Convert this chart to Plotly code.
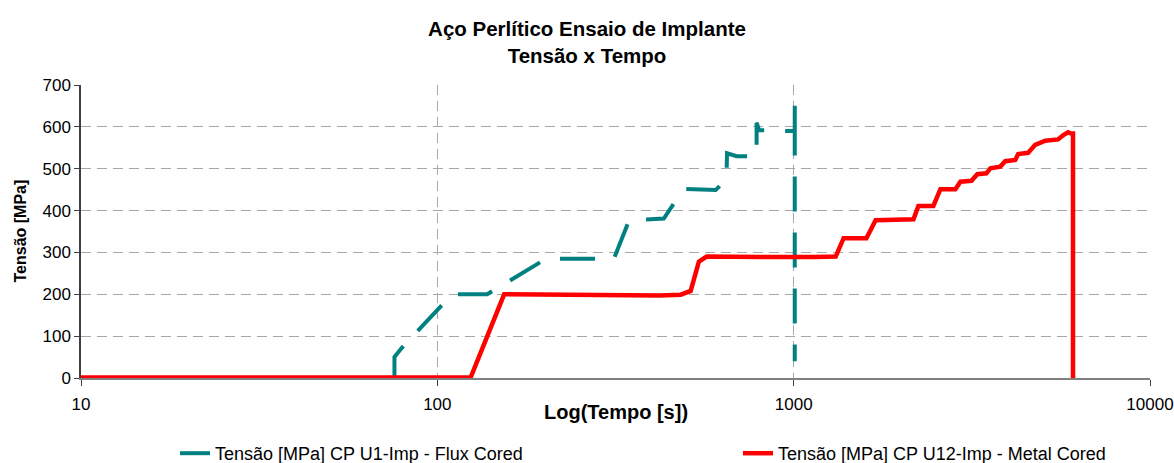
import plotly.graph_objects as go

# Série 1: Flux Cored (CP U1-Imp)
tempo_flux = [75.8, 75.8, 79.5, 110, 138, 202, 313, 345, 432, 492, 604, 640, 648, 650,
              692, 787, 787, 800, 986, 1007, 1007, 1007]
tensao_flux = [0, 50, 72, 200, 200, 285, 285, 376, 381, 452, 449, 470, 478, 537,
               530, 530, 610, 592, 590, 590, 658, 40]

# Série 2: Metal Cored (CP U12-Imp)
tempo_metal = [10, 124, 154, 250, 350, 420, 482, 514, 542, 570, 800, 1000, 1150, 1312,
               1381, 1600, 1698, 2169, 2239, 2466, 2581, 2843, 2938, 3155, 3276, 3474,
               3565, 3800, 3925, 4188, 4267, 4550, 4761, 5082, 5521, 5700, 5890, 6010,
               6080, 6080]
tensao_metal = [1, 1, 200, 198, 199, 197, 199, 208, 278, 290, 289, 288, 289, 290,
                334, 334, 377, 379, 411, 411, 451, 451, 469, 471, 487, 489,
                501, 505, 518, 521, 535, 538, 557, 567, 570, 580, 587, 584,
                584, 0]

y_ticks = [0, 100, 200, 300, 400, 500, 600, 700]
x_ticks = [10, 100, 1000, 10000]

fonte = "Liberation Sans, Arial, sans-serif"
W, H = 1174, 463
ML, MR, MT, MB = 81, 24, 85, 85
PW, PH = W - ML - MR, H - MT - MB


def px_x(p):
    # pixel column -> paper x
    return (p - ML) / PW


def px_y(p):
    # pixel row -> paper y
    return (H - MB - p) / PH


fig = go.Figure()
fig.add_trace(go.Scatter(
    x=tempo_flux, y=tensao_flux, mode="lines",
    name="Tensão [MPa] CP U1-Imp - Flux Cored",
    line=dict(color="#008080", width=4, dash="35px,21px"),
    legend="legend",
))
fig.add_trace(go.Scatter(
    x=tempo_metal, y=tensao_metal, mode="lines",
    name="Tensão [MPa] CP U12-Imp - Metal Cored",
    line=dict(color="#ff0000", width=4.5),
    legend="legend2",
))

legenda = dict(
    orientation="h", xref="container", yref="container",
    xanchor="left", y=(H - 435) / H, yanchor="top",
    font=dict(size=18, family=fonte), bgcolor="rgba(0,0,0,0)",
)

fig.update_layout(
    width=W, height=H,
    margin=dict(l=ML, r=MR, t=MT, b=MB, autoexpand=False),
    paper_bgcolor="white", plot_bgcolor="white",
    font=dict(family=fonte, size=17, color="black"),
    title=dict(
        text="<b>Aço Perlítico Ensaio de Implante<br>Tensão x Tempo</b>",
        x=0.5, xanchor="center", xref="container",
        y=1 - 36 / H, yanchor="top", yref="container",
        font=dict(size=20.5, family=fonte),
    ),
    showlegend=True,
    legend=dict(legenda, x=175 / W),
    legend2=dict(legenda, x=738 / W),
    annotations=[
        dict(text="<b>Log(Tempo [s])</b>", xref="paper", yref="paper",
             x=0.5, y=px_y(412), xanchor="center", yanchor="middle",
             showarrow=False, font=dict(size=20, family=fonte)),
        dict(text="<b>Tensão [MPa]</b>", xref="paper", yref="paper",
             x=px_x(20), y=0.5, xanchor="center", yanchor="middle", textangle=-90,
             showarrow=False, font=dict(size=16, family=fonte)),
    ],
)

fig.update_xaxes(
    type="log", range=[1, 4],
    tickvals=x_ticks, ticktext=[str(v) for v in x_ticks],
    showline=True, linecolor="#808080", linewidth=1.5,
    ticks="outside", ticklen=6, tickcolor="#404040",
    ticklabelstandoff=4, ticklabeloverflow="allow",
    showgrid=True, gridcolor="#a8a8a8", griddash="10px,6px", gridwidth=1,
    zeroline=False,
)
fig.update_yaxes(
    range=[0, 700], tickvals=y_ticks,
    showline=True, linecolor="#404040", linewidth=1.5,
    ticks="outside", ticklen=5, tickcolor="#404040",
    showgrid=True, gridcolor="#a8a8a8", griddash="10px,6px", gridwidth=1,
    zeroline=False,
)

fig.write_html("out.html")
